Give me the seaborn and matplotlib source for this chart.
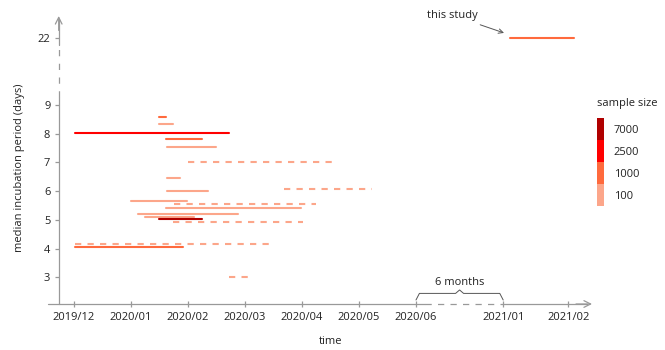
import numpy as np
import pandas as pd
import matplotlib
matplotlib.use('Agg')
import matplotlib.pyplot as plt
import seaborn as sns

# study periods in months since 2019/12, median incubation period, sample size, style
seg_start = [1.50, 1.50, 0.02, 1.61, 1.63, 2.00, 1.63, 1.63, 3.69, 1.00,
             1.75, 1.61, 1.12, 1.25, 1.50, 1.74, 0.02, 0.02, 2.72, 13.10]
seg_end = [1.61, 1.73, 2.72, 2.24, 2.49, 4.57, 1.86, 2.35, 5.23, 1.99,
           4.25, 3.99, 2.87, 2.11, 2.24, 4.01, 3.47, 1.92, 3.11, 14.09]
seg_days = [8.58, 8.33, 8.03, 7.82, 7.53, 7.00, 6.45, 6.01, 6.07, 5.67,
            5.56, 5.43, 5.19, 5.10, 5.02, 4.94, 4.15, 4.05, 3.00, 22]
seg_size = [1000, 100, 2500, 1000, 100, 100, 100, 100, 100, 100,
            100, 100, 100, 100, 7000, 100, 100, 1000, 100, 1000]
seg_style = ['solid', 'solid', 'solid', 'solid', 'solid', 'dashed', 'solid', 'solid', 'dashed', 'solid',
             'dashed', 'solid', 'solid', 'solid', 'solid', 'dashed', 'dashed', 'solid', 'dashed', 'solid']

size_levels = [100, 1000, 2500, 7000]
size_colors = ['#fca68a', '#ff6a3d', '#ff0000', '#b00000']

month_index = [0, 1, 2, 3, 4, 5, 6, 13, 14]
month_labels = ['2019/12', '2020/01', '2020/02', '2020/03', '2020/04',
                '2020/05', '2020/06', '2021/01', '2021/02']
day_ticks = [3, 4, 5, 6, 7, 8, 9, 22]


# broken axes: Jul-Dec 2020 squeezed, 10-21 days squeezed
def x_pos(m):
    return m if m <= 6 else 7.53 + (m - 13) * 1.14


def y_pos(d):
    return d if d <= 9 else 11.34 + (d - 22) * 0.1


rows = []
for i in range(len(seg_start)):
    for m in (seg_start[i], seg_end[i]):
        rows.append({'seg': i, 'x': x_pos(m), 'y': y_pos(seg_days[i]),
                     'size': seg_size[i], 'style': seg_style[i]})
df = pd.DataFrame(rows)

sns.set_theme(style='white')
plt.rcParams['font.family'] = ['Open Sans', 'DejaVu Sans']
axis_col = '#999999'
text_col = '#222222'

fig = plt.figure(figsize=(6.65, 3.5), dpi=100)
ax = fig.add_axes([58.7 / 665, 46 / 350, 533.3 / 665, 288 / 350])

sns.lineplot(data=df, x='x', y='y', units='seg', estimator=None, hue='size',
             hue_order=size_levels, palette=dict(zip(size_levels, size_colors)),
             style='style', dashes={'solid': '', 'dashed': (3, 3)},
             linewidth=1.5, legend=False, ax=ax, sort=False)

ax.set_xlim(-0.268, 9.088)
ax.set_ylim(2.071, 12.099)
for s in ax.spines.values():
    s.set_visible(False)

ax.set_xticks([x_pos(m) for m in month_index])
ax.set_xticklabels(month_labels)
ax.set_yticks([y_pos(d) for d in day_ticks])
ax.set_yticklabels([str(d) for d in day_ticks])
ax.tick_params(axis='x', direction='inout', length=5, width=0.9, color=axis_col,
               labelsize=8, labelcolor=text_col, pad=3, bottom=True)
ax.tick_params(axis='y', direction='out', length=3, width=0.9, color=axis_col,
               labelsize=8, labelcolor=text_col, pad=3, left=True)

# axis lines with breaks
yt = ax.get_yaxis_transform()
xt = ax.get_xaxis_transform()
ax.plot([0, 0], [2.071, 9.28], color=axis_col, lw=0.9, transform=yt, clip_on=False)
ax.plot([0, 0], [9.28, 11.09], color=axis_col, lw=0.9, dashes=(5, 6), transform=yt, clip_on=False)
ax.plot([0, 0], [11.09, 12.0], color=axis_col, lw=0.9, transform=yt, clip_on=False)
ax.plot([-0.456, 6.16], [0, 0], color=axis_col, lw=0.9, transform=xt, clip_on=False)
ax.plot([6.16, 7.53], [0, 0], color=axis_col, lw=0.9, dashes=(5, 5), transform=xt, clip_on=False)
ax.plot([7.53, 9.0], [0, 0], color=axis_col, lw=0.9, transform=xt, clip_on=False)
ax.annotate('', xy=(0, 1), xycoords='axes fraction', xytext=(0, 0.95),
            arrowprops=dict(arrowstyle='->', color=axis_col, lw=0.9, shrinkA=0, shrinkB=0))
ax.annotate('', xy=(1, 0), xycoords='axes fraction', xytext=(0.97, 0),
            arrowprops=dict(arrowstyle='->', color=axis_col, lw=0.9, shrinkA=0, shrinkB=0))

ax.set_xlabel('time', fontsize=8, color=text_col)
ax.xaxis.set_label_coords(0.51, -0.112)
ax.set_ylabel('median incubation period (days)', fontsize=8, color=text_col)
ax.yaxis.set_label_coords(-0.063, 0.472)

# "this study" pointer
ax.annotate('this study', xy=(x_pos(seg_start[-1]) - 0.1, y_pos(22) + 0.17),
            xytext=(6.63, 12.13), ha='center', va='center', fontsize=8, color=text_col,
            annotation_clip=False,
            arrowprops=dict(arrowstyle='->', color='#555555', lw=0.7, shrinkA=2, shrinkB=0))

# brace marking the 6-month gap
b0, b1 = x_pos(6), x_pos(13)
bm = (b0 + b1) / 2
ax.plot([b0, b0 + 0.06, bm - 0.07, bm, bm + 0.07, b1 - 0.06, b1],
        [2.21, 2.44, 2.44, 2.56, 2.44, 2.44, 2.21], color='#555555', lw=0.7, clip_on=False)
ax.text(bm, 2.83, '6 months', ha='center', va='center', fontsize=8, color=text_col)

# sample size key
lax = fig.add_axes([596.7 / 665, 144.3 / 350, 7.3 / 665, 87.4 / 350])
for i, c in enumerate(size_colors):
    lax.bar(0, 1, bottom=i, width=1, color=c, linewidth=0)
lax.set_xlim(-0.5, 0.5)
lax.set_ylim(0, len(size_levels))
for s in lax.spines.values():
    s.set_visible(False)
lax.set_xticks([])
lax.yaxis.tick_right()
lax.set_yticks(np.arange(len(size_levels)) + 0.5)
lax.set_yticklabels([str(v) for v in size_levels])
lax.tick_params(axis='y', length=0, pad=7, labelsize=8, labelcolor=text_col)
lax.annotate('sample size', xy=(0, 1), xycoords='axes fraction', xytext=(0, 11),
             textcoords='offset points', ha='left', va='center', fontsize=8, color=text_col)

fig.savefig('out.png', dpi=100)
